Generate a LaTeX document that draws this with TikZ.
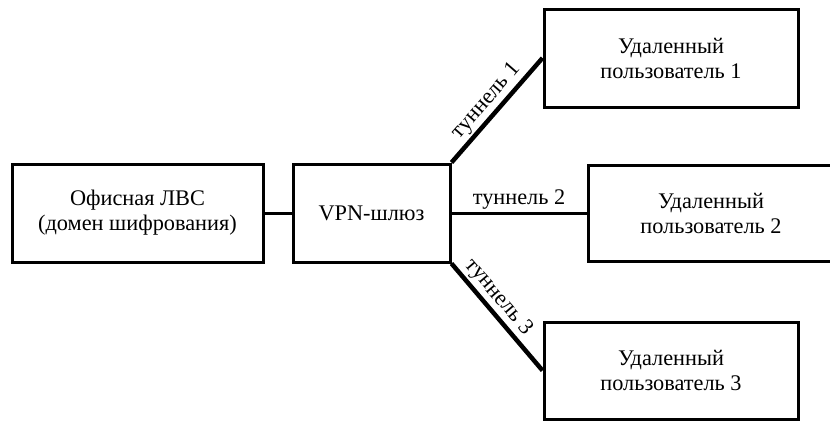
\documentclass[tikz,border=0pt]{standalone}
\usepackage{fontspec}
\setmainfont{Liberation Serif}
\begin{document}
\begin{tikzpicture}[x=1pt,y=-1pt,
  txt/.style={font=\fontsize{22.3}{25}\selectfont},
  box/.style={txt,draw=black,line width=3pt,minimum width=#1,inner sep=0pt,align=center},
  box/.default=254pt,
  link/.style={line width=3pt},
  tunnel/.style={line width=4.5pt},
  tlabel/.style={txt,inner sep=2pt}]
\useasboundingbox (0,0) rectangle (830,421);
\clip (0,0) rectangle (830,421);
% office network and gateway
\node[box=251pt,minimum height=98pt] (lan) at (137.5,213) {Офисная ЛВС\\(домен шифрования)};
\node[box=157pt,minimum height=98pt] (vpn) at (371.5,213) {VPN-шлюз};
% remote users (the second box runs off the right edge)
\node[box=254pt,minimum height=98pt] (u1) at (671,58) {Удаленный\\пользователь 1};
\node[box=246pt,minimum height=96pt] (u2) at (711,213) {Удаленный\\пользователь 2};
\node[box=254pt,minimum height=97pt] (u3) at (671,370.5) {Удаленный\\пользователь 3};
% links
\draw[link] (lan.east) -- (vpn.west);
\draw[tunnel] (vpn.north east) -- (u1.west)
  node[tlabel,midway,sloped,above] {туннель 1};
\draw[link] (vpn.east) -- (u2.west)
  node[tlabel,midway,above] {туннель 2};
\draw[tunnel] (vpn.south east) -- (u3.west)
  node[tlabel,pos=0.4,sloped,above] {туннель 3};
\end{tikzpicture}
\end{document}
